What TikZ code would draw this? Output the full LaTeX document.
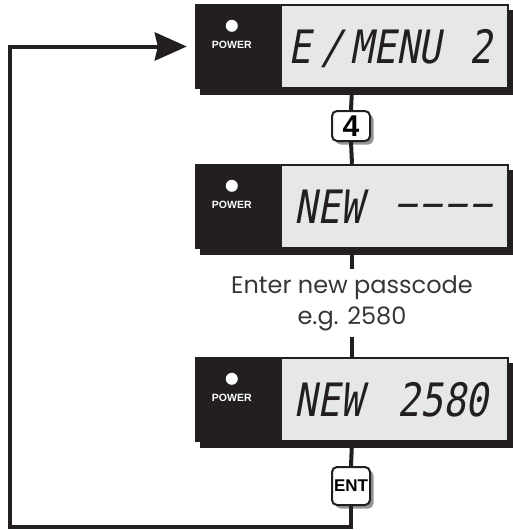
\documentclass[tikz,border=0pt]{standalone}
\usepackage{fontspec}
\setmainfont{Poppins}
\newfontfamily\keyfont{Liberation Sans}
\newfontfamily\lcdfont{DejaVu Sans Mono}[FakeSlant=0.18, FakeStretch=0.82]
\newfontfamily\lcddash{DejaVu Sans Mono}[FakeSlant=0.18, FakeStretch=0.7, LetterSpace=12]
\usepackage{tikz}
\usetikzlibrary{arrows.meta, positioning, calc, shadows}
\usepackage{xcolor}
\definecolor{panelblack}{RGB}{35, 31, 32}
\definecolor{lcdgrey}{RGB}{230, 231, 232}
\definecolor{keyshade}{RGB}{150, 150, 150}
\tikzset{
  panel/.style     = {rectangle, fill=panelblack, minimum width=314pt, minimum height=85pt, inner sep=0pt,
                      drop shadow={shadow xshift=5pt, shadow yshift=-6pt, fill=panelblack, opacity=1}},
  lcd/.style       = {rectangle, fill=lcdgrey, minimum width=225pt, minimum height=81pt, inner sep=0pt},
  led/.style       = {circle, fill=white, minimum size=12pt, inner sep=0pt},
  powerlbl/.style  = {text=white, font=\keyfont\bfseries\fontsize{10.5}{11}\selectfont, inner sep=0pt},
  lcdtxt/.style    = {text=panelblack, font=\lcdfont\fontsize{46}{46}\selectfont, inner sep=0pt, anchor=base},
  link/.style      = {draw=panelblack, line width=4pt},
}

\begin{document}
\begin{tikzpicture}[
    x=1pt, y=-1pt,
    % 按键
    keybox/.style={rectangle, rounded corners=5pt, draw=panelblack, line width=2pt,
                   fill=white, minimum width=38pt, inner sep=0pt, font=\keyfont\bfseries,
                   drop shadow={shadow xshift=3.5pt, shadow yshift=-3.5pt, fill=keyshade, opacity=1}},
    % 说明文字
    note/.style={align=center, font=\fontsize{24}{31}\selectfont, text=panelblack!90, inner ysep=6pt},
    % 回路箭头
    loopback/.style={link, -{Stealth[length=32pt, width=28pt, inset=3pt]}, shorten >=8pt},
]
\useasboundingbox (0,0) rectangle (512,530);

% ===================== 显示屏 1 (y = 46) =====================
\node[panel] (d1) at (352, 46.5) {};
\node[lcd, anchor=east] (lcd1) at ($(d1.east)+(-2,0)$) {};
\node[led] (led1) at ($(d1.north west)+(37,22)$) {};
\node[powerlbl] (pw1) at ($(d1.north west)+(37,41)$) {POWER};
\node[lcdtxt] (t1a) at (300, 63.5) {E};
\node[lcdtxt] (t1b) at (332, 63.5) {/};
\node[lcdtxt] (t1c) at (396, 63.5) {MENU};
\node[lcdtxt] (t1d) at (481, 63.5) {2};

% ===================== 按键 4 =====================
\node[keybox, minimum height=30pt, font=\keyfont\bfseries\fontsize{30}{30}\selectfont] (k4) at (351, 126) {4};

\draw[link] (d1.south) -- (k4.north);

% ===================== 显示屏 2 (y = 206) =====================
\node[panel] (d2) at (352, 206.5) {};
\node[lcd, anchor=east] (lcd2) at ($(d2.east)+(-2,0)$) {};
\node[led] (led2) at ($(d2.north west)+(37,22)$) {};
\node[powerlbl] (pw2) at ($(d2.north west)+(37,41)$) {POWER};
\node[lcdtxt] (t2a) at (329, 223.5) {NEW};
\node[lcdtxt, font=\lcddash\fontsize{46}{46}\selectfont] (t2b) at (444, 218.5) {––––};

\draw[link] (k4.south) -- (d2.north);

% ===================== 输入新密码 =====================
\node[note] (hint) at (352, 303) {Enter new passcode\\e.g. 2580};

\draw[link] (d2.south) -- (hint.north);

% ===================== 显示屏 3 (y = 400) =====================
\node[panel] (d3) at (352, 399.5) {};
\node[lcd, anchor=east] (lcd3) at ($(d3.east)+(-2,0)$) {};
\node[led] (led3) at ($(d3.north west)+(37,22)$) {};
\node[powerlbl] (pw3) at ($(d3.north west)+(37,41)$) {POWER};
\node[lcdtxt] (t3a) at (329, 416.5) {NEW};
\node[lcdtxt] (t3b) at (443, 416.5) {2580};

\draw[link] (hint.south) -- (d3.north);

% ===================== 按键 ENT =====================
\node[keybox, minimum height=38pt, font=\keyfont\bfseries\fontsize{17}{17}\selectfont] (kent) at (351, 486) {ENT};

\draw[link] (d3.south) -- (kent.north);

% 回到显示屏 1
\coordinate (corner) at (10, 527);
\draw[loopback] (kent.south) |- (corner) |- (d1.west);

\end{tikzpicture}
\end{document}
